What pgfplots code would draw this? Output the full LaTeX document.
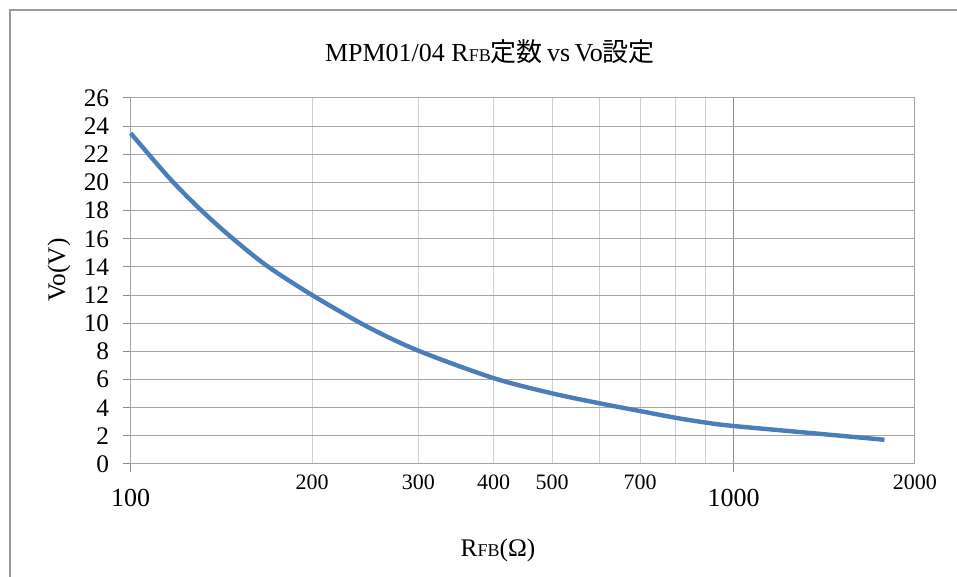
\documentclass[border=0pt]{standalone}
\usepackage{pgfplots}
\pgfplotsset{compat=1.18}
\usepackage{fontspec}
\setmainfont{Liberation Serif}
\newfontfamily\cjk{Noto Sans CJK JP}
\definecolor{curve}{HTML}{4A7EBB}
\definecolor{hgrid}{HTML}{A6A6A6}
\definecolor{vgrid}{HTML}{CFCFCF}
\definecolor{mgrid}{HTML}{8C8C8C}
\definecolor{frame}{HTML}{9A9A9A}
\begin{document}
\begin{tikzpicture}
\useasboundingbox (0pt,0pt) rectangle (717.75pt,432.75pt);
\draw[frame, line width=1.3pt] (7.5pt,-15pt) rectangle (750pt,425.25pt);
\begin{axis}[
  at={(98pt,84.75pt)}, anchor=south west,
  scale only axis, width=588.2pt, height=274.5pt,
  xmode=log, log basis x=10,
  xmin=100, xmax=2000, ymin=0, ymax=26,
  /pgf/number format/assume math mode=true,
  ytick={0,2,...,26},
  xtick={100,1000}, xticklabels={100,1000},
  minor xtick={200,300,400,500,600,700,800,900},
  extra x ticks={200,300,400,500,700,2000},
  extra x tick labels={200,300,400,500,700,2000},
  extra x tick style={grid=none, major tick length=0pt,
     xticklabel style={font=\fontsize{16.5}{17}\selectfont, anchor=base, yshift=7pt}},
  xticklabel style={font=\fontsize{19.5}{20}\selectfont, anchor=base, yshift=-26pt},
  yticklabel style={font=\fontsize{19}{19}\selectfont, anchor=east, inner sep=0pt, xshift=-10pt},
  tick align=outside,
  xtick pos=bottom, ytick pos=left,
  major tick length=6pt, minor tick length=0pt,
  tick style={mgrid, line width=0.75pt},
  xmajorgrids, xminorgrids, ymajorgrids,
  major x grid style={mgrid, line width=0.75pt},
  minor x grid style={vgrid, line width=0.75pt},
  major y grid style={hgrid, line width=0.75pt},
  axis line style={hgrid, line width=0.75pt},
  clip=false,
]
\addplot[curve, line width=3.3pt, smooth] coordinates {
(100,23.5) (116,20.3) (130,18.15) (146,16.2) (168,14.1) (200,12.0)
(247,9.75) (300,8.05) (400,6.1) (500,5.02) (600,4.31) (700,3.76)
(800,3.29) (900,2.94) (1000,2.70) (1400,2.13) (1780,1.72)
};
\end{axis}
\node[font=\fontsize{19.5}{20}\selectfont] at (367.5pt,393.75pt) {MPM01/04 R{\fontsize{13.5}{14}\selectfont FB}{\cjk 定数}\,vs\,Vo{\cjk 設定}};
\node[font=\fontsize{19}{19}\selectfont, rotate=90] at (44.25pt,230.25pt) {Vo(V)};
\node[font=\fontsize{19}{19}\selectfont] at (373.5pt,20.25pt) {R{\fontsize{13.5}{14}\selectfont FB}(Ω)};
\end{tikzpicture}
\end{document}
